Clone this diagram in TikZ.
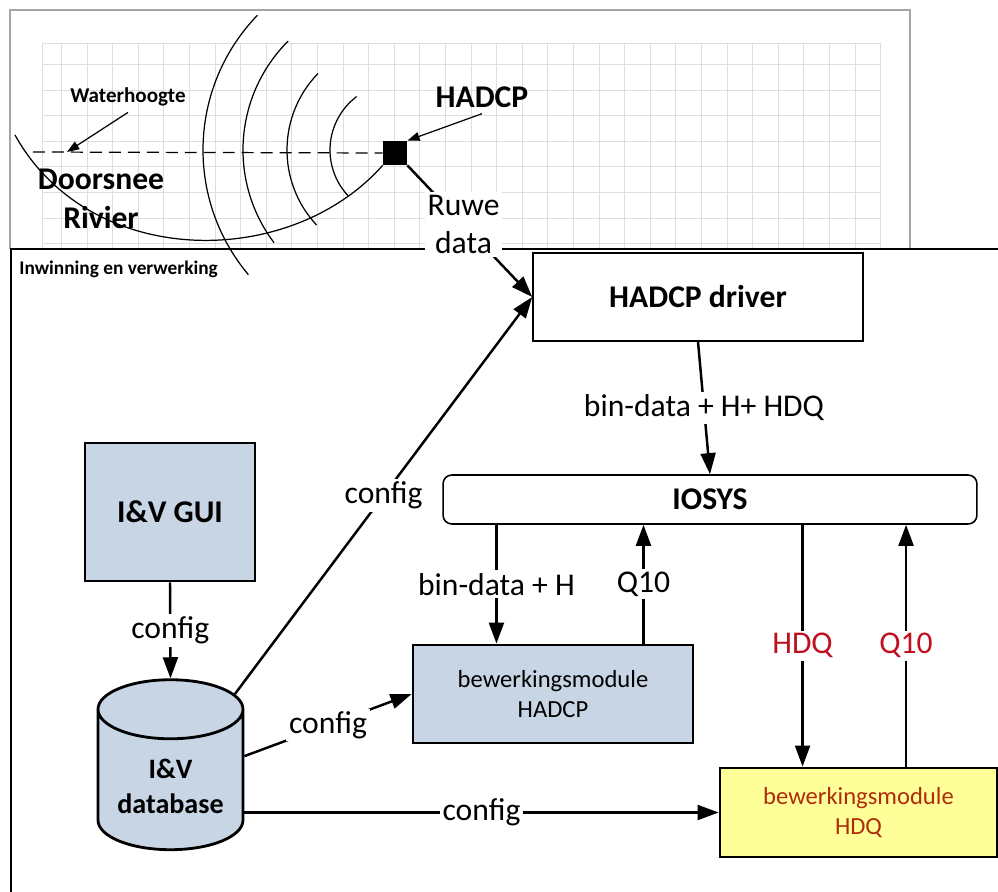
\documentclass[tikz,border=0pt]{standalone}
\usepackage{fontspec}
\setmainfont{Carlito}
\usepackage{tikz}
\usetikzlibrary{arrows.meta, shapes.geometric, calc}
\usepackage{xcolor}
\definecolor{boxblue}{RGB}{200, 213, 228}
\definecolor{boxyellow}{RGB}{255, 255, 153}
\definecolor{flowred}{RGB}{192, 16, 32}
\definecolor{modred}{RGB}{176, 44, 10}
\definecolor{gridgray}{RGB}{222, 222, 222}
\definecolor{framegray}{RGB}{165, 165, 165}

\tikzset{
  flow/.style={line width=1.4pt, -{Triangle[length=12pt, width=8.5pt]}},
  pointer/.style={line width=0.7pt, -{Triangle[length=7pt, width=5pt]}},
  lbl/.style={fill=white, inner sep=1.5pt, font=\fontsize{18}{22}\selectfont},
  module/.style={draw, line width=1.6pt, fill=boxblue, align=center},
  thinbox/.style={draw, line width=0.9pt, fill=white, font=\bfseries\fontsize{18}{22}\selectfont},
}

\begin{document}
\begin{tikzpicture}[x=0.02cm, y=-0.02cm]
  \useasboundingbox (0,0) rectangle (998,892);

  % grid of the cross-section
  \draw[gridgray, line width=0.5pt] (42,43) rectangle (880,249);
  \foreach \gx in {0,...,31} {
    \draw[gridgray, line width=0.5pt] ({61.5+25.6*\gx},43) -- ({61.5+25.6*\gx},249);
  }
  \foreach \gy in {0,...,7} {
    \draw[gridgray, line width=0.5pt] (42,{64.5+25.6*\gy}) -- (880,{64.5+25.6*\gy});
  }
  \draw[framegray, line width=0.8pt] (10,249) -- (10,10) -- (910,10) -- (910,249);

  % frame inwinning
  \draw[line width=1.1pt] (11,892) -- (11,249) -- (998,249);
  \node[font=\bfseries\fontsize{11}{13}\selectfont, anchor=west, inner sep=0pt] (inwin) at (19,269) {Inwinning en verwerking};

  % river, water level and sensor
  \node[fill=black, inner sep=0pt, minimum size=0.48cm] (sensor) at (395,153) {};
  \coordinate (bron) at (397,150);
  \coordinate (wl) at (67,152);
  \draw[line width=0.7pt] (15,135) .. controls (90,270) and (290,270) .. (sensor.south west);
  \draw[line width=0.7pt, dash pattern=on 6.8pt off 4pt] (33,152) -- (sensor.west);
  \foreach \r/\a/\b in {67/137/233, 110/137/224, 154/143/225, 194/140/224} {
    \draw[line width=0.7pt] (bron) ++(\a:\r) arc[start angle=\a, end angle=\b, radius=\r];
  }

  \node[font=\bfseries\fontsize{12}{14}\selectfont] (waterh) at (128,97) {Waterhoogte};
  \node[font=\bfseries\fontsize{18}{22}\selectfont] (hadcp) at (482,97) {HADCP};
  \node[font=\bfseries\fontsize{18}{22.5}\selectfont, align=center] (doorsnee) at (101,199) {Doorsnee\\Rivier};
  \draw[pointer] (waterh.south) -- (wl);
  \draw[pointer] (hadcp.south) -- (sensor.north east);

  % blocks
  \node[thinbox, minimum width=6.6cm, minimum height=1.76cm] (driver) at (698,297) {HADCP driver};
  \node[thinbox, rounded corners=5pt, minimum width=10.68cm, minimum height=0.98cm] (iosys) at (710,499.5) {IOSYS};
  \node[module, minimum width=3.4cm, minimum height=2.76cm, font=\bfseries\fontsize{18}{22}\selectfont] (gui) at (170,512) {I\&V GUI};
  \node[module, minimum width=5.6cm, minimum height=1.96cm, font=\fontsize{14}{17.5}\selectfont] (bewhadcp) at (553,694) {bewerkingsmodule\\HADCP};
  \node[module, fill=boxyellow, text=modred, minimum width=5.54cm, minimum height=1.78cm, font=\fontsize{14}{17.5}\selectfont] (bewhdq) at (858.5,812.5) {bewerkingsmodule\\HDQ};
  \node[module, cylinder, shape border rotate=90, aspect=0.5, minimum width=2.9cm, minimum height=3.4cm, font=\bfseries\fontsize{16}{20}\selectfont] (db) at (170.5,786) {I\&V\\database};

  % data flow
  \draw[flow] (sensor.south east) -- node[lbl, align=center, pos=0.45] {Ruwe\\data} (driver.west);
  \draw[flow] (driver.south) -- node[lbl] {bin-data + H+ HDQ} (iosys.north);

  \coordinate (inH) at ($(bewhadcp.north west)!0.3!(bewhadcp.north east)$);
  \coordinate (outH) at ($(bewhadcp.north west)!0.82!(bewhadcp.north east)$);
  \coordinate (inQ) at ($(bewhdq.north west)!0.3!(bewhdq.north east)$);
  \coordinate (outQ) at ($(bewhdq.north west)!0.67!(bewhdq.north east)$);
  \draw[flow] (iosys.south -| inH) -- node[lbl] {bin-data + H} (inH);
  \draw[flow] (outH) -- node[lbl] {Q10} (iosys.south -| outH);
  \draw[flow] (iosys.south -| inQ) -- node[lbl, text=flowred] {HDQ} (inQ);
  \draw[flow] (outQ) -- node[lbl, text=flowred] {Q10} (iosys.south -| outQ);

  % configuration
  \draw[flow] (gui.south) -- node[lbl] {config} (db.north);
  \draw[flow] (db.55) -- node[lbl] {config} (driver.west);
  \draw[flow] (db.22) -- node[lbl] {config} (bewhadcp.west);
  \draw[flow] (db.east |- bewhdq.west) -- node[lbl] {config} (bewhdq.west);

\end{tikzpicture}
\end{document}
